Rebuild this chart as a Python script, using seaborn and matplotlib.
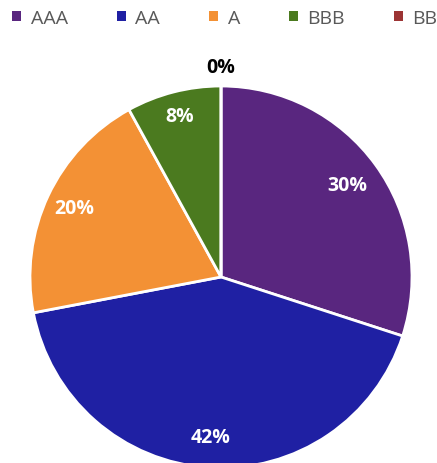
import numpy as np
import matplotlib
matplotlib.use("Agg")
import matplotlib.pyplot as plt
import seaborn as sns
from matplotlib.patches import Patch

# Rating distribution
ratings = ["AAA", "AA", "A", "BBB", "BB"]
shares = [30, 42, 20, 8, 0]
colors = ["#59267f", "#1f20a3", "#f39135", "#4b7a1f", "#9c3434"]

sns.set_theme(style="white")
plt.rcParams["font.family"] = ["Open Sans", "DejaVu Sans"]

fig = plt.figure(figsize=(4.37, 4.64), dpi=100)
W, H = 437, 464
cx, cy, r = 221, 278, 191
half = 1.1 * r
ax = fig.add_axes([(cx - half) / W, (H - cy - half) / H, 2 * half / W, 2 * half / H])

wedges, _ = ax.pie(
    shares, colors=colors, startangle=90, counterclock=False, radius=1,
    wedgeprops=dict(edgecolor="white", linewidth=2),
)
ax.set_xlim(-1.1, 1.1)
ax.set_ylim(-1.1, 1.1)
ax.set_aspect("equal")
ax.axis("off")

# Percentage labels placed along each wedge's mid-angle
dists = [0.82, 0.84, 0.85, 0.87, 1.1]
for w, v, d in zip(wedges, shares, dists):
    ang = np.deg2rad((w.theta1 + w.theta2) / 2)
    color = "white" if v > 0 else "black"
    ax.text(d * np.cos(ang), d * np.sin(ang), f"{v}%", ha="center", va="center",
            fontsize=14, fontweight="bold", color=color, clip_on=False)

handles = [Patch(facecolor=c, edgecolor="none") for c in colors]
fig.legend(handles, ratings, loc="center left", bbox_to_anchor=(12 / W, 1 - 19 / H),
           ncol=5, frameon=False, fontsize=14, handlelength=0.47, handleheight=0.47,
           handletextpad=0.5, columnspacing=2.5, borderaxespad=0, borderpad=0,
           labelcolor="#595959")

fig.savefig("out.png", dpi=100)
